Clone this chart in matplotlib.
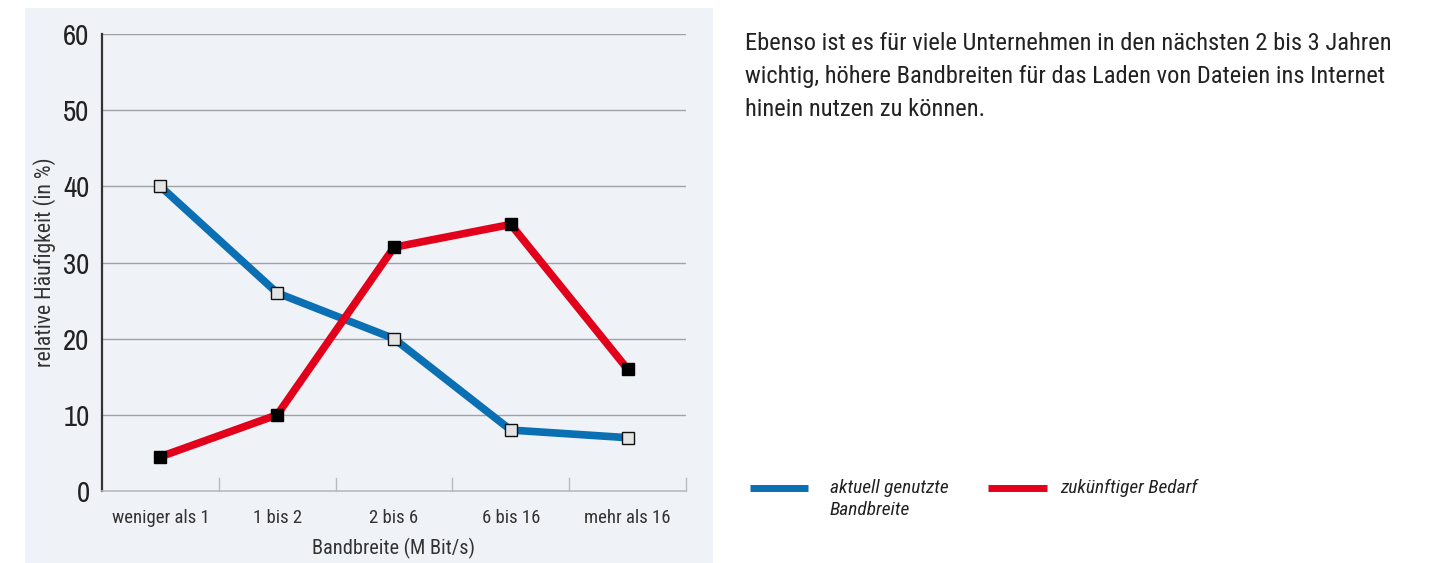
import matplotlib
matplotlib.use("Agg")
import matplotlib.pyplot as plt
from matplotlib.patches import Rectangle
from matplotlib.lines import Line2D
from matplotlib.textpath import TextPath
from matplotlib.font_manager import FontProperties

categories = ["weniger als 1", "1 bis 2", "2 bis 6", "6 bis 16", "mehr als 16"]
aktuell = [40, 26, 20, 8, 7]
zukuenftig = [4.5, 10, 32, 35, 16]
yticks = [0, 10, 20, 30, 40, 50, 60]
text_lines = [
    "Ebenso ist es für viele Unternehmen in den nächsten 2 bis 3 Jahren",
    "wichtig, höhere Bandbreiten für das Laden von Dateien ins Internet",
    "hinein nutzen zu können.",
]

BLUE = "#0b6fb3"
RED = "#e2001a"
PANEL = "#eff3f7"
GRID = "#a0a3a6"

NUM = ["Archivo Narrow", "Roboto Condensed", "DejaVu Sans"]
TXT = ["Roboto Condensed", "PT Sans Narrow", "DejaVu Sans"]


def fit(s, family, target_px, style="normal"):
    """font size (pt) so that string s is about target_px wide at 100 dpi"""
    fp = FontProperties(family=family, style=style)
    w = TextPath((0, 0), s, size=10, prop=fp).get_extents().width
    return 10 * target_px / (w * 100 / 72)


W, H = 1449, 563
fig = plt.figure(figsize=(W / 100, H / 100), dpi=100)
fig.patch.set_facecolor("white")

fig.add_artist(Rectangle((25 / W, 0), (713 - 25) / W, 1 - 8 / H,
                         transform=fig.transFigure, facecolor=PANEL,
                         edgecolor="none", zorder=0))

ax = fig.add_axes([102 / W, 1 - 491 / H, (686 - 102) / W, (491 - 34) / H])
ax.set_facecolor("none")
x = list(range(len(categories)))
ax.set_xlim(-0.5, len(categories) - 0.5)
ax.set_ylim(0, 60)

for y in yticks[1:]:
    ax.axhline(y, color=GRID, lw=1.0, zorder=1)
for b in [i + 0.5 for i in range(len(categories))]:
    ax.plot([b, b], [0, 1.7], color="#b8bbbe", lw=1.0, zorder=1, clip_on=False)

ax.plot(x, aktuell, color=BLUE, lw=5.5, zorder=3, solid_capstyle="butt",
        marker="s", markersize=8.5, markerfacecolor="#e4e4e4",
        markeredgecolor="#111111", markeredgewidth=1.0)
ax.plot(x, zukuenftig, color=RED, lw=5.5, zorder=4, solid_capstyle="butt",
        marker="s", markersize=8.5, markerfacecolor="#000000",
        markeredgecolor="#000000", markeredgewidth=1.0)

for s in ["top", "right"]:
    ax.spines[s].set_visible(False)
ax.spines["left"].set_color("#333333")
ax.spines["left"].set_linewidth(1.6)
ax.spines["bottom"].set_color("#b8bbbe")
ax.spines["bottom"].set_linewidth(1.2)

ax.set_yticks(yticks)
ax.set_yticklabels([str(v) for v in yticks], family=NUM,
                   fontsize=fit("60", NUM, 24), color="#222222")
ax.tick_params(axis="y", length=0, pad=9)
ax.set_xticks(x)
ax.set_xticklabels(categories, family=TXT,
                   fontsize=fit("weniger als 1", TXT, 94), color="#333333")
ax.tick_params(axis="x", length=0, pad=13)

ax.set_xlabel("Bandbreite (M Bit/s)", family=TXT,
              fontsize=fit("Bandbreite (M Bit/s)", TXT, 160), color="#333333")
ax.xaxis.set_label_coords(0.5, (491 - 548) / 457)
ax.xaxis.label.set_va("center")
ax.set_ylabel("relative Häufigkeit (in %)", family=TXT,
              fontsize=fit("relative Häufigkeit (in %)", TXT, 207),
              color="#333333")
ax.yaxis.set_label_coords((45 - 102) / 584, (491 - 262) / 457)
ax.yaxis.label.set_va("center")

body_size = fit(text_lines[0], TXT, 643)
for i, line in enumerate(text_lines):
    fig.text(745 / W, 1 - (44 + 33 * i) / H, line, family=TXT,
             fontsize=body_size, color="#222222", va="center", ha="left")

leg_size = fit("aktuell genutzte", TXT, 117, style="italic")
fig.add_artist(Line2D([750 / W, 808 / W], [1 - 488 / H] * 2, color=BLUE, lw=5,
                      transform=fig.transFigure, solid_capstyle="butt"))
fig.text(830 / W, 1 - 488 / H, "aktuell genutzte", style="italic", family=TXT,
         fontsize=leg_size, color="#222222", va="center")
fig.text(830 / W, 1 - 510 / H, "Bandbreite", style="italic", family=TXT,
         fontsize=leg_size, color="#222222", va="center")
fig.add_artist(Line2D([988 / W, 1047 / W], [1 - 488 / H] * 2, color=RED, lw=5,
                      transform=fig.transFigure, solid_capstyle="butt"))
fig.text(1060 / W, 1 - 488 / H, "zukünftiger Bedarf", style="italic",
         family=TXT, fontsize=leg_size, color="#222222", va="center")

fig.savefig("out.png", dpi=100)
